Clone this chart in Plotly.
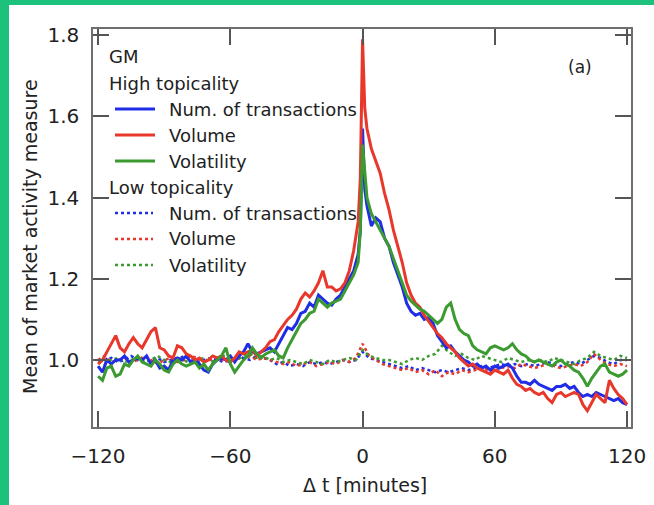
import plotly.graph_objects as go

# ---------------- data ----------------
t_high = list(range(-120, -1, 2)) + [-2, -1, 0, 1] + list(range(2, 121, 2))
t_high = sorted(set(t_high))

num_high = [0.985, 0.97, 1.0, 0.99, 1.0, 1.0, 1.01, 0.995, 1.0, 1.005,
            1.0, 1.01, 0.99, 1.0, 0.98, 0.985, 0.975, 1.0, 1.005, 1.0,
            1.01, 0.995, 1.0, 0.99, 0.975, 0.97, 0.99, 1.0, 1.005, 1.0,
            1.01, 0.995, 1.01, 1.02, 1.04, 1.02, 1.015, 1.02, 1.025, 1.03,
            1.02, 1.04, 1.06, 1.08, 1.075, 1.09, 1.115, 1.12, 1.14, 1.13,
            1.16, 1.15, 1.14, 1.135, 1.15, 1.16, 1.18, 1.2, 1.22, 1.26,
            1.32, 1.57, 1.42,
            1.38, 1.33, 1.35, 1.34, 1.30, 1.28, 1.24, 1.21, 1.18, 1.14,
            1.12, 1.11, 1.115, 1.10, 1.105, 1.09, 1.06, 1.045, 1.03, 1.035,
            1.02, 1.01, 1.0, 0.995, 0.985, 0.99, 0.98, 0.985, 0.975, 0.985,
            0.98, 0.985, 0.99, 0.98, 0.96, 0.945, 0.945, 0.94, 0.95, 0.94,
            0.935, 0.93, 0.925, 0.935, 0.935, 0.94, 0.93, 0.935, 0.92, 0.91,
            0.915, 0.91, 0.92, 0.915, 0.91, 0.905, 0.9, 0.905, 0.895, 0.89]

vol_high = [0.99, 1.0, 1.02, 1.04, 1.06, 1.03, 1.02, 1.04, 1.055, 1.04,
            1.03, 1.05, 1.07, 1.08, 1.03, 1.025, 1.01, 1.005, 1.035, 1.03,
            1.015, 1.01, 1.0, 1.005, 0.995, 1.0, 1.01, 1.005, 1.01, 1.0,
            0.995, 1.005, 1.02, 1.015, 1.02, 1.025, 1.01, 1.02, 1.03, 1.045,
            1.05, 1.07, 1.085, 1.1, 1.11, 1.125, 1.15, 1.165, 1.155, 1.17,
            1.19, 1.22, 1.18, 1.18, 1.17, 1.175, 1.19, 1.22, 1.27, 1.34,
            1.45, 1.79, 1.62,
            1.57, 1.52, 1.49, 1.46, 1.41, 1.37, 1.32, 1.28, 1.24, 1.19,
            1.16, 1.14, 1.13, 1.11, 1.095, 1.08, 1.065, 1.055, 1.04, 1.03,
            1.02, 1.005, 0.995, 0.985, 0.99, 0.98, 0.975, 0.97, 0.965, 0.975,
            0.97, 0.965, 0.975, 0.955, 0.94, 0.935, 0.925, 0.93, 0.92, 0.915,
            0.92, 0.905, 0.895, 0.915, 0.92, 0.91, 0.915, 0.92, 0.915, 0.89,
            0.875, 0.895, 0.915, 0.905, 0.895, 0.95, 0.93, 0.915, 0.905, 0.89]

vola_high = [0.96, 0.95, 0.98, 0.985, 0.96, 0.965, 0.99, 0.985, 1.0, 1.01,
             0.995, 0.99, 0.985, 1.0, 0.99, 0.975, 0.97, 0.99, 1.0, 0.99,
             0.985, 0.99, 0.995, 0.98, 0.99, 0.975, 0.99, 1.0, 1.01, 1.03,
             0.99, 0.97, 0.985, 1.0, 1.01, 1.03, 1.015, 1.005, 1.015, 1.02,
             1.025, 1.01, 1.005, 1.03, 1.05, 1.07, 1.09, 1.1, 1.115, 1.12,
             1.15, 1.14, 1.13, 1.14, 1.145, 1.15, 1.17, 1.19, 1.21, 1.24,
             1.32, 1.53, 1.47,
             1.4, 1.36, 1.34, 1.32, 1.3, 1.28, 1.25, 1.22, 1.19, 1.16,
             1.145, 1.135, 1.125, 1.12, 1.11, 1.1, 1.09, 1.1, 1.13, 1.14,
             1.1, 1.075, 1.065, 1.06, 1.035, 1.025, 1.02, 1.015, 1.03, 1.035,
             1.03, 1.025, 1.03, 1.04, 1.025, 1.015, 1.01, 1.0, 0.995, 1.0,
             0.995, 0.99, 0.985, 0.995, 1.0, 0.99, 0.985, 0.975, 0.97, 0.955,
             0.935, 0.955, 0.97, 0.985, 0.99, 0.97, 0.965, 0.96, 0.965, 0.975]

t_low = list(range(-120, 121, 3))

num_low = [0.995, 1.0, 1.005, 0.995, 1.0, 1.01, 1.0, 0.995, 1.0, 1.005,
           0.995, 1.0, 1.0, 1.01, 1.0, 0.995, 1.0, 1.005, 1.0, 0.995,
           1.0, 1.01, 1.005, 1.0, 1.01, 1.005, 1.0, 0.99, 0.995, 0.985,
           0.99, 0.985, 0.995, 0.99, 0.995, 0.99, 0.995, 1.0, 0.995, 1.0,
           1.02, 1.005, 1.0, 0.995, 0.99, 0.985, 0.98, 0.985, 0.975, 0.98,
           0.975, 0.97, 0.975, 0.97, 0.975, 0.98, 0.975, 0.98, 0.985, 0.98,
           0.985, 0.99, 0.985, 0.99, 0.985, 0.99, 0.985, 0.99, 0.995, 0.99,
           0.985, 0.99, 0.995, 0.99, 1.0, 1.01, 1.005, 0.995, 0.99, 1.0, 1.0]

vol_low = [1.0, 1.01, 0.995, 1.0, 1.005, 0.995, 1.0, 1.01, 1.0, 0.99,
           1.0, 1.005, 0.995, 1.0, 1.01, 1.005, 0.995, 1.0, 1.005, 1.0,
           0.995, 1.005, 1.0, 1.01, 1.0, 1.005, 1.0, 0.995, 0.99, 0.995,
           0.985, 0.99, 0.995, 0.985, 0.99, 0.995, 0.99, 1.0, 0.995, 1.005,
           1.04, 1.01, 1.0, 0.99, 0.985, 0.98, 0.975, 0.98, 0.97, 0.975,
           0.965, 0.975, 0.96, 0.97, 0.965, 0.975, 0.97, 0.975, 0.98, 0.975,
           0.97, 0.98, 0.985, 0.98, 0.99, 0.985, 0.98, 0.985, 0.99, 0.985,
           0.98, 0.985, 0.99, 0.985, 0.995, 1.015, 1.0, 0.99, 0.985, 0.99, 0.985]

vola_low = [0.995, 0.99, 1.0, 1.005, 0.995, 1.0, 1.005, 0.995, 1.0, 1.01,
            1.0, 0.995, 1.005, 1.0, 0.99, 1.0, 1.005, 0.995, 1.0, 1.01,
            1.005, 1.0, 1.01, 1.015, 1.005, 1.01, 1.0, 1.005, 0.995, 1.0,
            0.995, 0.99, 1.0, 0.995, 0.99, 1.0, 0.995, 1.0, 1.005, 1.0,
            1.025, 1.01, 1.005, 1.0, 1.0, 0.995, 0.99, 1.0, 1.005, 1.0,
            1.01, 1.015, 1.035, 1.02, 1.01, 1.015, 1.005, 1.0, 1.01, 1.005,
            1.0, 0.995, 1.005, 1.0, 0.995, 1.0, 0.995, 1.0, 0.995, 1.005,
            1.0, 0.995, 0.99, 1.0, 1.005, 1.02, 1.01, 1.005, 1.0, 1.01, 1.005]

x_ticks = [-120, -60, 0, 60, 120]
x_tick_text = ["\u2212120", "\u221260", "0", "60", "120"]
y_ticks = [1.0, 1.2, 1.4, 1.6, 1.8]
y_tick_text = ["1.0", "1.2", "1.4", "1.6", "1.8"]

BLUE = "#1f2de6"
RED = "#e8372b"
GREEN = "#3b9a30"
FONT = "DejaVu Sans"
TXT = "#222222"

# ---------------- figure ----------------
fig = go.Figure()
for y, c in [(num_low, BLUE), (vol_low, RED), (vola_low, GREEN)]:
    fig.add_trace(go.Scatter(x=t_low, y=y, mode="lines",
                             line=dict(color=c, width=2.5, dash="dot"),
                             showlegend=False, hoverinfo="skip"))
for y, c in [(num_high, BLUE), (vol_high, RED), (vola_high, GREEN)]:
    fig.add_trace(go.Scatter(x=t_high, y=y, mode="lines",
                             line=dict(color=c, width=3),
                             showlegend=False, hoverinfo="skip"))

L, R, T, B = 93, 23, 29, 78
W, H = 654, 505
PW, PH = W - L - R, H - T - B


def px(xp):
    return (xp - L) / PW


def py(yp):
    return (H - B - yp) / PH


shapes = []
shapes.append(dict(type="rect", xref="paper", yref="paper", x0=px(-2), x1=px(9),
                   y0=py(H + 2), y1=py(-2), fillcolor="#1cc27c", line_width=0, layer="below"))
shapes.append(dict(type="rect", xref="paper", yref="paper", x0=px(-2), x1=px(W + 2),
                   y0=py(5), y1=py(-2), fillcolor="#1cc27c", line_width=0, layer="below"))

annotations = []


def label(text, x, y, size=18, anchor="left", angle=0):
    annotations.append(dict(text=text, xref="paper", yref="paper", x=px(x), y=py(y),
                            xanchor=anchor, yanchor="middle", showarrow=False, textangle=angle,
                            font=dict(family=FONT, size=size, color=TXT)))


rows = [57, 83, 109, 135, 161, 187, 213, 239, 265]
label("GM", 107, rows[0])
label("High topicality", 107, rows[1])
label("Low topicality", 107, rows[5])
entries = [("Num. of transactions", BLUE), ("Volume", RED), ("Volatility", GREEN)]
for k, (name, col) in enumerate(entries):
    yy = rows[2 + k]
    shapes.append(dict(type="line", xref="paper", yref="paper", x0=px(115), x1=px(155),
                       y0=py(yy), y1=py(yy), line=dict(color=col, width=3)))
    label(name, 167, yy)
    yy2 = rows[6 + k]
    shapes.append(dict(type="line", xref="paper", yref="paper", x0=px(115), x1=px(153),
                       y0=py(yy2), y1=py(yy2), line=dict(color=col, width=2.5, dash="dot")))
    label(name, 167, yy2)

label("(a)", 580, 67, size=17, anchor="center")
label("\u0394 t [minutes]", 365, 485, size=19, anchor="center")
label("Mean of market activity measure", 30, 237, size=19, anchor="center", angle=-90)

axis_common = dict(showline=True, linecolor="#6e6e6e", linewidth=1.5, mirror="ticks",
                   ticks="inside", ticklen=16, tickwidth=1.5, tickcolor="#555555",
                   showgrid=False, zeroline=False, automargin=False,
                   tickfont=dict(family=FONT, size=20, color=TXT))

fig.update_layout(
    width=W, height=H,
    margin=dict(l=L, r=R, t=T, b=B, pad=0),
    paper_bgcolor="white", plot_bgcolor="white",
    shapes=shapes, annotations=annotations,
    xaxis=dict(range=[-122.3, 121.8], tickvals=x_ticks, ticktext=x_tick_text,
               ticklabelstandoff=10, **axis_common),
    yaxis=dict(range=[0.835, 1.815], tickvals=y_ticks, ticktext=y_tick_text,
               ticklabelstandoff=8, **axis_common),
)

fig.write_html("out.html", config={"displayModeBar": False},
               post_script="document.body.style.margin='0';document.body.style.overflow='hidden';")
